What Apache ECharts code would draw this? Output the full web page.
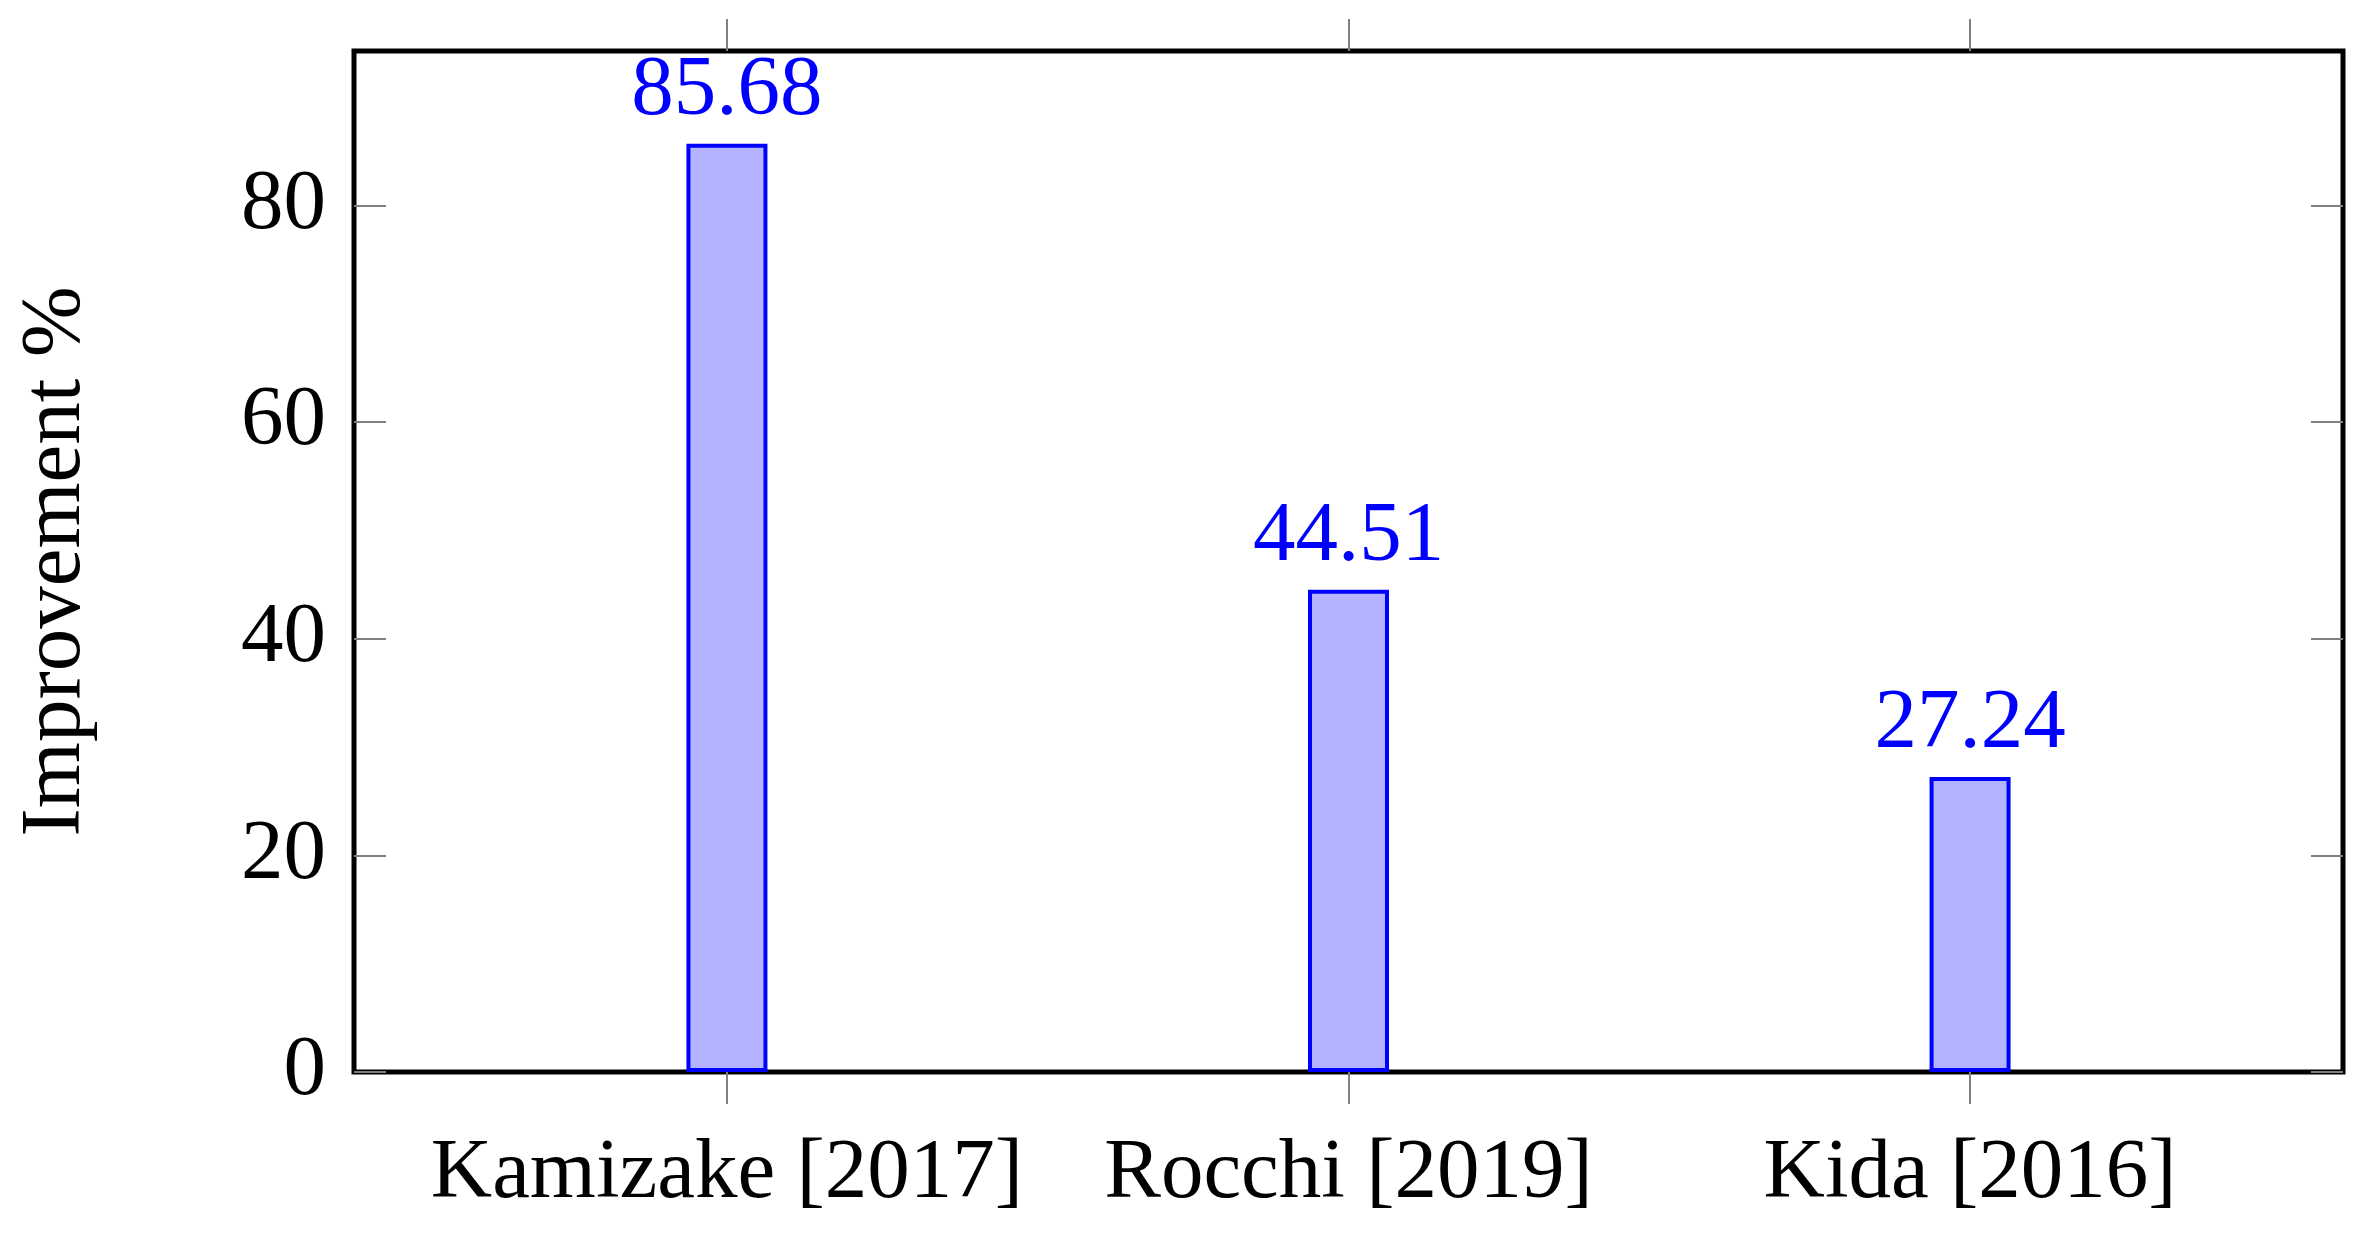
<!DOCTYPE html>
<html>
<head>
<meta charset="utf-8">
<title>Improvement %</title>
<script src="https://cdn.jsdelivr.net/npm/echarts@6/dist/echarts.min.js"></script>
<style>
  html, body { margin: 0; padding: 0; background: #fff; }
  #chart { width: 2361px; height: 1233px; }
</style>
</head>
<body>
<div id="chart"></div>
<script>
  const categories = ['Kamizake [2017]', 'Rocchi [2019]', 'Kida [2016]']
  const improvement = [85.68, 44.51, 27.24]
  const yTicks = [0, 20, 40, 60, 80]

  const FONT = 'Liberation Serif'
  const TICK = { show: true, length: 32, lineStyle: { color: '#808080', width: 2 } }
  const NO_LINE = { show: false, onZero: false }

  const positions = categories.map((_, i) => i)
  // pgfplots-style padding around the bars
  const yMax = Math.max(...improvement) * 1.1

  const chart = echarts.init(document.getElementById('chart'))

  const option = {
    animation: false,
    backgroundColor: '#fff',
    grid: {
      left: 354,
      right: 18,
      top: 51,
      bottom: 161,
      outerBoundsMode: 'none',
      containLabel: false,
      show: true,
      borderColor: '#000',
      borderWidth: 5,
      backgroundColor: 'transparent'
    },
    xAxis: [
      {
        type: 'value',
        min: -0.6,
        max: categories.length - 0.4,
        position: 'bottom',
        axisLine: NO_LINE,
        splitLine: { show: false },
        axisTick: { ...TICK, inside: false, customValues: positions },
        axisLabel: {
          customValues: positions,
          formatter: (v) => categories[Math.round(v)],
          fontFamily: FONT,
          fontSize: 85,
          color: '#000',
          margin: 60
        }
      },
      {
        type: 'value',
        min: -0.6,
        max: categories.length - 0.4,
        position: 'top',
        axisLine: NO_LINE,
        splitLine: { show: false },
        axisTick: { ...TICK, inside: false, customValues: positions },
        axisLabel: { show: false, customValues: positions }
      }
    ],
    yAxis: [
      {
        type: 'value',
        min: 0,
        max: yMax,
        interval: 20,
        position: 'left',
        name: 'Improvement %',
        nameLocation: 'middle',
        nameGap: 255,
        nameTextStyle: { fontFamily: FONT, fontSize: 85, color: '#000' },
        axisLine: NO_LINE,
        splitLine: { show: false },
        axisTick: { ...TICK, inside: true, customValues: yTicks },
        axisLabel: {
          customValues: yTicks,
          fontFamily: FONT,
          fontSize: 85,
          color: '#000',
          margin: 28
        }
      },
      {
        type: 'value',
        min: 0,
        max: yMax,
        interval: 20,
        position: 'right',
        axisLine: NO_LINE,
        splitLine: { show: false },
        axisTick: { ...TICK, inside: true, customValues: yTicks },
        axisLabel: { show: false, customValues: yTicks }
      }
    ],
    series: [
      {
        type: 'bar',
        xAxisIndex: 0,
        yAxisIndex: 0,
        barWidth: 81,
        data: improvement.map((v, i) => [positions[i], v]),
        itemStyle: {
          color: '#b3b3ff',
          borderColor: '#0000ff',
          borderWidth: 4
        },
        label: {
          show: true,
          position: 'top',
          distance: 10,
          fontFamily: FONT,
          fontSize: 85,
          color: '#0000ff',
          formatter: (p) => p.value[1].toFixed(2)
        }
      }
    ]
  }

  chart.setOption(option)
</script>
</body>
</html>
